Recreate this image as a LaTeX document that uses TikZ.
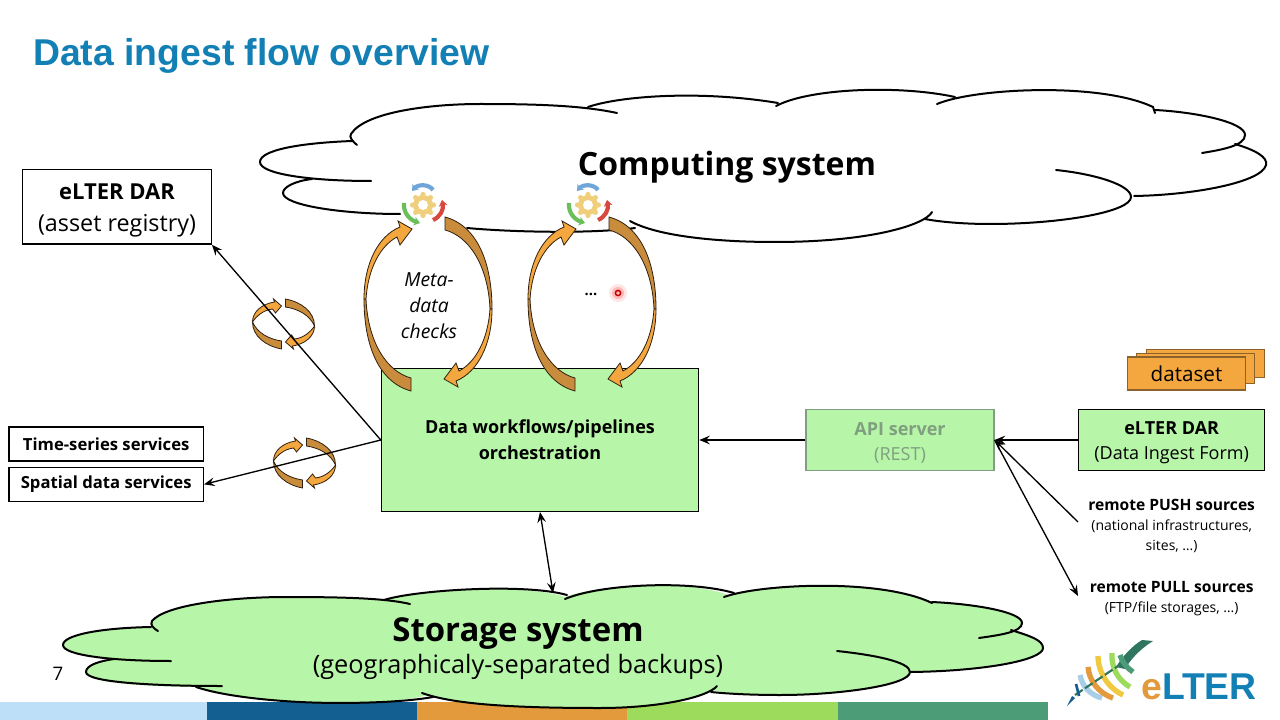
\documentclass[tikz,border=0pt]{standalone}
\usepackage{fontspec}
\setmainfont{Open Sans}
\newfontfamily\headfont{Liberation Sans}
\usetikzlibrary{positioning}
\usetikzlibrary{arrows.meta}

\definecolor{paleGreen}{HTML}{B7F5A8}
\definecolor{apiGrey}{HTML}{7F9F80}
\definecolor{ringLight}{HTML}{F5A73F}
\definecolor{ringDark}{HTML}{C98C3C}
\definecolor{titleBlue}{HTML}{1380B5}
\definecolor{gearGold}{HTML}{F0CF7C}
\definecolor{gearBlue}{HTML}{6FA5D8}
\definecolor{gearGreen}{HTML}{6ABF5A}
\definecolor{gearRed}{HTML}{D8483F}
\definecolor{bandSky}{HTML}{BDE0F8}
\definecolor{bandNavy}{HTML}{135F92}
\definecolor{bandOrange}{HTML}{E29A3C}
\definecolor{bandLime}{HTML}{9CDB5C}
\definecolor{bandTeal}{HTML}{4D9C78}
\definecolor{logoYellow}{HTML}{F0C93F}
\definecolor{logoPine}{HTML}{2F7560}
\definecolor{logoMist}{HTML}{A9CFE8}

\tikzset{
  pics/metaloop/.style = {
    code = {
      \foreach \turn in {0,180} {
        \begin{scope}[rotate=\turn]
          \path[ringedge,fill=ringDark] (-64,-5) .. controls (-64,40) and (-50,78) .. (-17,87)
            -- (-17,74) .. controls (-40,68) and (-60,40) .. (-62,-5) -- cycle;
          \path[ringedge,fill=ringLight] (-64,-5) .. controls (-64,-40) and (-50,-68) .. (-28,-77)
            -- (-30,-83) -- (-16,-75) -- (-28,-59) -- (-31,-67)
            .. controls (-48,-58) and (-60,-35) .. (-62,-5) -- cycle;
        \end{scope}
      }
    }
  },
  pics/syncloop/.style = {
    code = {
      \foreach \turn in {0,180} {
        \begin{scope}[rotate=\turn]
          \path[ringedge,fill=ringDark] (-31,-2) .. controls (-31,12) and (-18,22) .. (-2,25)
            -- (-2,17) .. controls (-15,15) and (-26,9) .. (-31,-2) -- cycle;
          \path[ringedge,fill=ringLight] (-31,-2) .. controls (-31,-12) and (-22,-20) .. (-9,-22)
            -- (-10,-25) -- (-2,-18) -- (-8,-11) -- (-11,-15)
            .. controls (-20,-14) and (-27,-8) .. (-31,-2) -- cycle;
        \end{scope}
      }
    }
  },
  pics/gearwheel/.style = {
    code = {
      \foreach \tooth in {0,45,...,315} {
        \fill[gearGold] (\tooth:10.5) circle (2.6);
      }
      \fill[gearGold] (0,0) circle (10);
      \fill[white] (0,0) circle (5);
      \draw[gearstroke,draw=gearBlue] (10,-15) .. controls (6,-21) and (-5,-21) .. (-11,-14);
      \draw[gearstroke,draw=gearGreen] (-19,-2) .. controls (-20,8) and (-13,15) .. (-3,18);
      \draw[gearstroke,draw=gearRed] (10,15) .. controls (17,12) and (21,5) .. (19,-5);
    }
  },
}

\begin{document}
\begin{tikzpicture}[
  x = 0.75pt,
  y = -0.75pt,
  >={Stealth[length=8pt,width=6.5pt,inset=3pt]},
  ringedge/.style = {
    draw = black!75!brown,
    line width = 0.6pt,
  },
  gearstroke/.style = {
    line width = 3.1pt,
    -{Stealth[length=4.5pt,width=6.5pt]},
  },
  cloudline/.style = {
    line width = 1.5pt,
    line cap = round,
  },
  box/.style = {
    draw,
    line width = 1pt,
    align = center,
    inner sep = 0pt,
  },
  flowbox/.style = {
    box,
    fill = paleGreen,
    minimum width = 4.95cm,
    minimum height = 1.62cm,
    font = \fontsize{13.5}{19}\selectfont,
  },
  servicebox/.style = {
    box,
    minimum width = 5.12cm,
    minimum height = 0.9cm,
    font = \fontsize{12.5}{15}\selectfont\bfseries,
  },
  sheet/.style = {
    box,
    fill = ringLight,
    draw = ringDark!70!black,
    minimum width = 3.12cm,
  },
  link/.style = {
    ->,
    line width = 1pt,
  },
  srctext/.style = {
    align = center,
    inner sep = 0pt,
    font = \fontsize{10.5}{15}\selectfont,
  },
  logoarc/.style = {
    line width = 4pt,
  },
]
  \useasboundingbox (0,0) rectangle (1280,720);
  \fill[white] (0,0) rectangle (1280,720);

  % footer band
  \fill[bandSky] (0,702) rectangle (207,720);
  \fill[bandNavy] (207,702) rectangle (417,720);
  \fill[bandOrange] (417,702) rectangle (627,720);
  \fill[bandLime] (627,702) rectangle (838,720);
  \fill[bandTeal] (838,702) rectangle (1048,720);

  \node[text=titleBlue,anchor=west,inner sep=0pt] (title) at (33,56)
    {\headfont\bfseries\fontsize{28}{32}\selectfont Data ingest flow overview};
  \node[inner sep=0pt] (pageno) at (58,674) {\fontsize{14}{16}\selectfont 7};

  % computing cloud
  \draw[cloudline] (357,145) .. controls (352,141) and (349,137) .. (351,134)
    .. controls (365,112) and (430,104) .. (480,104) .. controls (530,104) and (580,105) .. (617,113);
  \draw[cloudline] (588,107) .. controls (620,96) and (700,90) .. (778,103);
  \draw[cloudline] (776,106) .. controls (810,88) and (900,85) .. (955,97);
  \draw[cloudline] (937,104) .. controls (975,88) and (1100,82) .. (1153,107) -- (1155,113);
  \draw[cloudline] (1155,110) .. controls (1195,112) and (1245,122) .. (1245,135)
    .. controls (1245,146) and (1220,150) .. (1202,153);
  \draw[cloudline] (1235,144) .. controls (1255,150) and (1268,157) .. (1266,165)
    .. controls (1262,182) and (1195,195) .. (1134,196);
  \draw[cloudline] (1056,170) .. controls (1095,174) and (1131,185) .. (1131,197)
    .. controls (1131,212) and (1060,224) .. (990,224) .. controls (965,224) and (940,222) .. (925,219);
  \draw[cloudline] (932,212) .. controls (925,225) and (870,242) .. (775,242)
    .. controls (710,242) and (655,235) .. (630,221);
  \draw[cloudline] (467,228) .. controls (510,232) and (590,234) .. (635,228);
  \draw[cloudline] (352,141) .. controls (300,143) and (260,150) .. (260,162)
    .. controls (260,174) and (310,181) .. (371,181);
  \draw[cloudline] (312,179) .. controls (295,181) and (283,187) .. (283,193)
    .. controls (283,205) and (340,214) .. (400,214);
  \node[inner sep=0pt] (computing) at (727,167)
    {\fontsize{24}{28}\selectfont\bfseries Computing system};

  % storage cloud
  \fill[paleGreen] (152,621) .. controls (165,605) and (230,597) .. (286,597)
    .. controls (330,597) and (370,600) .. (384,600) .. controls (415,590) and (525,583) .. (565,597)
    .. controls (600,584) and (690,580) .. (728,595) .. controls (760,584) and (880,578) .. (932,602)
    .. controls (975,604) and (1022,612) .. (1022,623) .. controls (1022,627) and (1018,629) .. (1011,630)
    .. controls (1030,636) and (1043,640) .. (1043,648) .. controls (1043,660) and (985,671) .. (911,672)
    .. controls (910,685) and (840,695) .. (780,695) .. controls (755,695) and (730,694) .. (711,690)
    .. controls (708,697) and (660,708) .. (600,708) .. controls (520,708) and (455,705) .. (428,695)
    .. controls (400,703) and (340,704) .. (300,702) .. controls (260,700) and (220,695) .. (196,687)
    .. controls (130,686) and (86,682) .. (86,672) .. controls (86,665) and (100,661) .. (114,659)
    .. controls (80,656) and (63,650) .. (63,645) .. controls (63,635) and (100,628) .. (151,627) -- cycle;
  \draw[cloudline] (158,631) .. controls (153,628) and (150,625) .. (152,621)
    .. controls (165,605) and (230,597) .. (286,597) .. controls (340,597) and (385,598) .. (410,604);
  \draw[cloudline] (384,600) .. controls (415,590) and (525,583) .. (567,595);
  \draw[cloudline] (565,599) .. controls (600,584) and (690,580) .. (734,593);
  \draw[cloudline] (724,597) .. controls (760,584) and (880,578) .. (932,603);
  \draw[cloudline] (932,602) .. controls (975,604) and (1022,612) .. (1022,623)
    .. controls (1022,632) and (1000,635) .. (979,638);
  \draw[cloudline] (1011,630) .. controls (1030,636) and (1043,640) .. (1043,648)
    .. controls (1043,660) and (985,671) .. (911,672);
  \draw[cloudline] (837,651) .. controls (875,655) and (910,662) .. (910,672)
    .. controls (910,685) and (840,695) .. (780,695) .. controls (755,695) and (730,694) .. (711,692);
  \draw[cloudline] (717,686) .. controls (708,697) and (660,708) .. (600,708)
    .. controls (520,708) and (455,705) .. (422,693);
  \draw[cloudline] (433,697) .. controls (400,703) and (340,704) .. (300,702)
    .. controls (260,700) and (220,695) .. (196,687);
  \draw[cloudline] (222,686) .. controls (150,686) and (86,682) .. (86,672)
    .. controls (86,665) and (100,661) .. (114,659);
  \draw[cloudline] (171,661) .. controls (110,661) and (63,655) .. (63,645)
    .. controls (63,635) and (100,628) .. (151,627);
  \node[align=center,inner sep=0pt,font=\fontsize{19}{24}\selectfont] (storage) at (518,649)
    {\textbf{\fontsize{24.7}{24}\selectfont Storage system}\\(geographicaly-separated backups)};

  \node[box,fill=paleGreen,minimum width=8.36cm,minimum height=3.76cm,
        font=\fontsize{13.5}{19.5}\selectfont\bfseries] (orch) at (540,440)
    {Data workflows/pipelines\\orchestration};

  \node[flowbox,draw=apiGrey,text=apiGrey] (api) [right=2.8cm of orch]
    {\rule{0pt}{14pt}\textbf{API server}\\(REST)};
  \node[flowbox,minimum width=4.9cm] (dar) [right=2.2cm of api]
    {\rule{0pt}{14pt}\textbf{eLTER DAR}\\(Data Ingest Form)};

  \node[sheet,minimum height=0.74cm] (dsback) [above left=0.8cm and 0cm of dar.north east] {};
  \node[sheet,minimum height=0.79cm] (dsmid) [below left=0.1cm and 0.26cm of dsback.north east] {};
  \node[sheet,minimum height=0.87cm,font=\fontsize{15.5}{18}\selectfont] (dataset)
    [below left=0.1cm and 0.24cm of dsmid.north east] {dataset};

  \node[box,minimum width=4.97cm,minimum height=1.96cm,font=\fontsize{17.5}{23.5}\selectfont] (reg)
    [above left=3.25cm and 4.45cm of orch.north west]
    {\rule{0pt}{17pt}\textbf{\fontsize{16.5}{23.5}\selectfont eLTER DAR}\\(asset registry)};

  \node[servicebox] (spatial) [left=4.66cm of orch,yshift=-1.17cm] {Spatial data services};
  \node[servicebox] (series) [above=0.13cm of spatial] {Time-series services};

  \node[srctext] (push) [below=0.72cm of dar]
    {\textbf{\fontsize{11.7}{15}\selectfont remote PUSH sources}\\(national infrastructures,\\sites, \dots)};
  \node[srctext] (pull) [below=0.75cm of push]
    {\textbf{\fontsize{11.7}{15}\selectfont remote PULL sources}\\(FTP/file storages, \dots)};

  \coordinate (pushend) at (1078,522);
  \coordinate (pullend) at (1078,596);
  \coordinate (cloudtop) at (553,593);

  \pic at (283.5,324) {syncloop};
  \pic at (304.5,463) {syncloop};

  \path[link] (orch.west) edge (reg.south east);
  \path[link] (orch.west) edge (spatial.east);
  \path[link] (api.west) edge (orch.east);
  \path[link] (dar.west) edge (api.east);
  \path[link] (pushend) edge (api.east);
  \path[link] (api.east) edge (pullend);
  \path[link,<->] (orch.south) edge (cloudtop);

  \pic at (423,205) {gearwheel};
  \pic at (588,205) {gearwheel};
  \pic at (428,304) {metaloop};
  \pic at (592,304) {metaloop};

  \node[align=center,inner sep=0pt,font=\fontsize{14.5}{19.5}\selectfont\itshape] (meta) at (429,306)
    {Meta-\\data\\checks};
  \node[inner sep=0pt,font=\fontsize{11}{13}\selectfont\bfseries] (dots) at (591,294) {...};

  % pointer dot
  \fill[red,opacity=0.1] (618,293) circle (9);
  \fill[red,opacity=0.2] (618,293) circle (6);
  \draw[red!75!black,line width=1.1pt,fill=red!25] (618,293) circle (2.6);

  % logo
  \fill[logoPine] (1142,640) -- (1153,641) .. controls (1140,649) and (1130,660) .. (1125,669)
    -- (1116,667) .. controls (1122,657) and (1132,646) .. (1142,640) -- cycle;
  \draw[logoarc,draw=logoMist] (1080,675) .. controls (1082,686) and (1090,695) .. (1102,698);
  \draw[logoarc,draw=bandOrange] (1088,667) .. controls (1089,680) and (1098,693) .. (1113,698);
  \draw[logoarc,draw=logoYellow] (1098,656) .. controls (1098,672) and (1108,688) .. (1123,695);
  \draw[logoarc,draw=bandLime] (1112,653) .. controls (1111,668) and (1118,680) .. (1130,687);
  \draw[logoarc,draw=bandTeal] (1120,655) .. controls (1122,662) and (1127,668) .. (1133,672);
  \draw[logoPine,line width=1.6pt,dash pattern=on 7pt off 2pt] (1075,695) -- (1118,666);
  \draw[bandNavy,line width=2pt] (1076,684) -- (1079,696);
  \fill[bandNavy] (1067,706) -- (1072,696) -- (1075,698) -- cycle;
  \node[anchor=west,inner sep=0pt,text=titleBlue] (logotext) at (1141,687)
    {\headfont\bfseries\fontsize{28}{30}\selectfont \textcolor{bandOrange}{e}LTER};
\end{tikzpicture}
\end{document}
